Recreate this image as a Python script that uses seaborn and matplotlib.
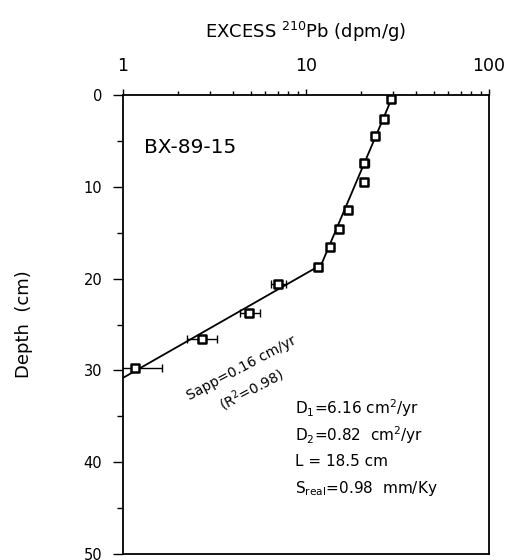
import matplotlib
matplotlib.use("Agg")
import matplotlib.pyplot as plt
import numpy as np
import pandas as pd
import seaborn as sns

# Excess 210Pb profile, core BX-89-15
depth = [0.5, 2.6, 4.5, 7.45, 9.5, 12.5, 14.6, 16.6, 18.7, 20.6, 23.7, 26.6, 29.7]
pb210 = [29.0, 26.8, 23.8, 20.8, 20.7, 17.0, 15.1, 13.5, 11.6, 7.06, 4.88, 2.71, 1.16]
err_low = [0.6, 0.5, 0.5, 1.2, 0.4, 0.4, 0.3, 0.3, 0.4, 0.6, 0.55, 0.47, 0.46]
err_high = [0.6, 0.5, 0.5, 1.4, 0.4, 0.4, 0.3, 0.3, 0.4, 0.75, 0.7, 0.54, 0.47]

# two-layer mixing model fit
fit_pb = [30.0, 12.1, 1.0]
fit_depth = [0.0, 18.5, 30.8]

df = pd.DataFrame({"depth": depth, "pb": pb210})

sns.set_theme(style="ticks")
plt.rcParams["font.family"] = ["DejaVu Sans"]
plt.rcParams.update({"text.color": "black", "axes.labelcolor": "black",
                     "xtick.color": "black", "ytick.color": "black"})

fig = plt.figure(figsize=(5.17, 5.6), dpi=100)
ax = fig.add_axes([0.238, 0.01, 0.708, 0.821])

ax.plot(fit_pb, fit_depth, color="black", lw=1.3, zorder=2)
ax.errorbar(pb210, depth, xerr=[err_low, err_high], fmt="none",
            ecolor="black", elinewidth=1.0, capsize=3, capthick=1.0, zorder=3)
sns.scatterplot(data=df, x="pb", y="depth", ax=ax, marker="s", s=34,
                facecolor="white", edgecolor="black", linewidth=1.8, zorder=4)

ax.set_xscale("log")
ax.set_xlim(1, 100)
ax.set_ylim(50, 0)
ax.xaxis.tick_top()
ax.xaxis.set_label_position("top")
ax.set_xticks([1, 10, 100])
ax.set_xticklabels(["1", "10", "100"])
ax.set_yticks([0, 10, 20, 30, 40, 50])
ax.set_yticks([5, 15, 25, 35, 45], minor=True)

ax.tick_params(axis="x", which="major", length=4, width=1, labelsize=12.5, pad=10)
ax.tick_params(axis="x", which="minor", length=3, width=1)
ax.tick_params(axis="y", which="major", length=7, width=1, labelsize=10.5, pad=8)
ax.tick_params(axis="y", which="minor", length=4, width=1)
for sp in ax.spines.values():
    sp.set_visible(True)
    sp.set_linewidth(1.3)
    sp.set_color("black")

ax.set_xlabel("EXCESS $^{210}$Pb (dpm/g)", fontsize=13, labelpad=14)
ax.set_ylabel("Depth  (cm)", fontsize=13, labelpad=36)
ax.set_facecolor("white")

ax.text(1.3, 5.8, "BX-89-15", fontsize=14.5, va="center", ha="left")
ax.text(2.3, 33.2, "Sapp=0.16 cm/yr", fontsize=10, rotation=28,
        rotation_mode="anchor", ha="left", va="baseline")
ax.text(3.5, 34.4, "(R$^2$=0.98)", fontsize=10, rotation=28,
        rotation_mode="anchor", ha="left", va="baseline")

info = ["D$_1$=6.16 cm$^2$/yr", "D$_2$=0.82  cm$^2$/yr",
        "L = 18.5 cm", "S$_{\\rm real}$=0.98  mm/Ky"]
for i, line in enumerate(info):
    ax.text(8.7, 34.1 + i * 2.9, line, fontsize=11, va="center", ha="left")

fig.savefig("out.png", dpi=100, facecolor="white")
